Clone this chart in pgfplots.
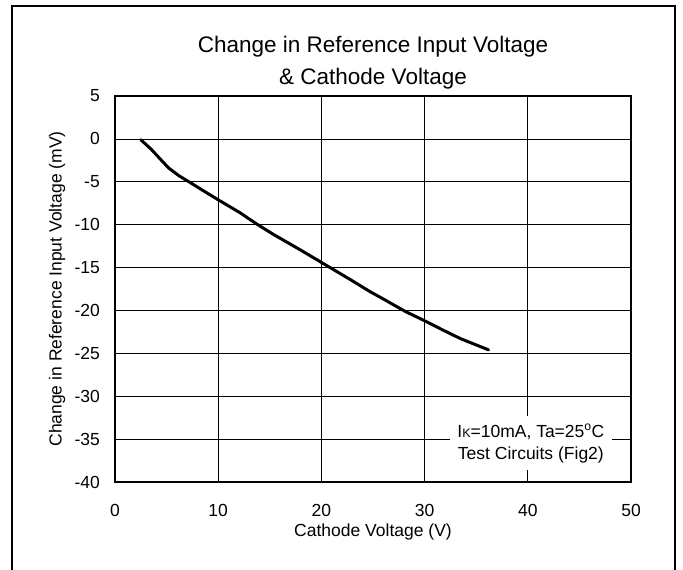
\documentclass[border=0pt]{standalone}
\usepackage{fontspec}
\setmainfont{Liberation Sans}
\usepackage{pgfplots}
\pgfplotsset{compat=1.18}
\begin{document}
\begin{tikzpicture}[x=1pt,y=1pt]
\useasboundingbox (0,0) rectangle (683,570);
\draw[line width=1.6pt] (12,-10) -- (12,564) -- (675,564) -- (675,-10);
\begin{axis}[
  at={(115pt,88pt)}, anchor=south west,
  scale only axis, width=516pt, height=386pt,
  xmin=0, xmax=50, ymin=-40, ymax=5,
  xtick={0,10,...,50}, ytick={-40,-35,...,5},
  grid=major, major grid style={black, line width=0.7pt},
  major tick length=0pt,
  axis line style={line width=1.2pt},
  /pgf/number format/assume math mode=true,
  tick label style={font=\fontsize{17.5}{20}\selectfont},
  xticklabel style={inner sep=0pt, anchor=north, yshift=-22pt},
  yticklabel style={inner sep=0pt, anchor=east, xshift=-15pt},
  label style={font=\fontsize{17.5}{20}\selectfont},
  xlabel={Cathode Voltage (V)},
  xlabel style={at={(axis description cs:0.5,-0.13)}, anchor=center},
  ylabel={Change in Reference Input Voltage (mV)},
  ylabel style={at={(axis description cs:-0.112,0.5)}, anchor=center},
  title={Change in Reference Input Voltage\\\& Cathode Voltage},
  title style={at={(axis description cs:0.5,1.07)}, anchor=center, align=center, font=\fontsize{22.5}{32}\selectfont},
]
\addplot[black, line width=3pt, line join=round, line cap=round] coordinates {
(2.5,-0.1) (3.5,-1.2) (4.5,-2.5) (5.2,-3.4) (6.2,-4.3) (7.3,-5.1) (8.5,-6.0)
(10.0,-7.1) (12.1,-8.6) (13.7,-9.9) (15.3,-11.1) (17.9,-12.9) (20.0,-14.4)
(22.8,-16.4) (24.7,-17.8) (26.2,-18.8) (28.1,-20.1) (30.0,-21.2) (31.8,-22.3)
(33.5,-23.3) (36.2,-24.6)
};
\node[fill=white, minimum width=162pt, minimum height=54pt, inner sep=0pt, align=center,
  font=\fontsize{17.5}{22}\selectfont] at (axis cs:40.3,-35.5)
  {I{\fontsize{12.5}{12}\selectfont K}=10mA, Ta=25\textsuperscript{o}C\\Test Circuits (Fig2)};
\end{axis}
\end{tikzpicture}
\end{document}
